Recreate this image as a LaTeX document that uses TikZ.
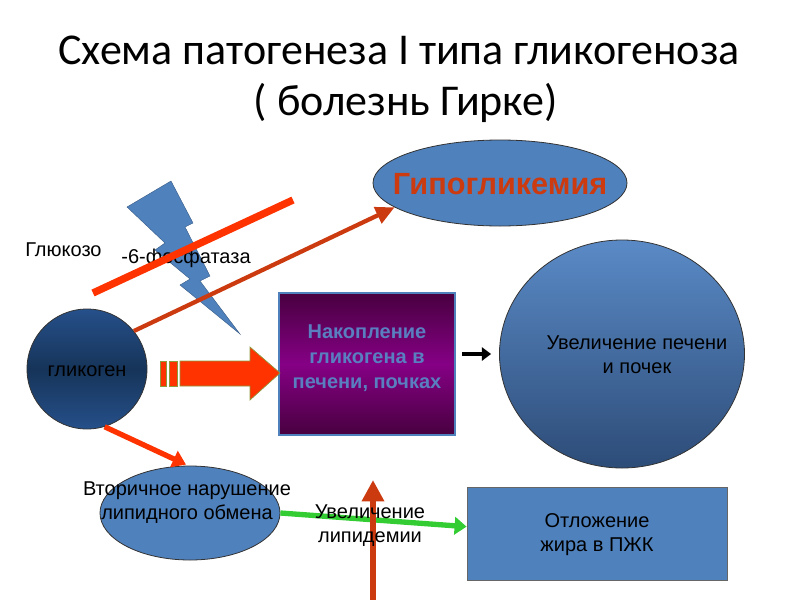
\documentclass[tikz,border=0pt]{standalone}
\usepackage{fontspec}
\setmainfont{Liberation Sans}
\newfontfamily\titlefont{Carlito}
\usetikzlibrary{shapes.geometric,arrows.meta,calc}
\definecolor{steel}{HTML}{4F81BD}
\definecolor{redor}{HTML}{FF3300}
\definecolor{darkor}{HTML}{CC3A10}
\definecolor{greenar}{HTML}{33CC33}
\definecolor{navyL}{HTML}{26508A}
\definecolor{navyD}{HTML}{163459}
\definecolor{purpD}{HTML}{48003F}
\definecolor{purpM}{HTML}{850085}
\definecolor{liverT}{HTML}{5A8AC6}
\definecolor{liverB}{HTML}{2D4C78}
\definecolor{olive}{HTML}{8C9A3C}
\definecolor{boxtext}{HTML}{5A7FC0}
\tikzset{
  txt/.style={font=\fontsize{15}{18}\selectfont, align=center, inner sep=0pt},
  blueell/.style={ellipse, draw=black!80, line width=0.6pt, fill=steel, inner sep=0pt},
}
\begin{document}
\begin{tikzpicture}[x=0.75pt,y=-0.75pt]
\useasboundingbox (0,0) rectangle (800,600);
% title
\node[font=\titlefont\fontsize{33}{40}\selectfont] (t1) at (399,50) {Схема патогенеза I типа гликогеноза};
\node[font=\titlefont\fontsize{33}{40}\selectfont] (t2) at (406,103) {( болезнь Гирке)};

% hypoglycemia
\node[blueell, minimum width=190.5pt, minimum height=64.5pt] (hypo) at (500,183) {};
\node[font=\bfseries\fontsize{23}{26}\selectfont, text=darkor, inner sep=0pt] (hypoT) at (500,184) {Гипогликемия};

% lightning bolt
\fill[steel, draw=steel!70!black, line width=0.3pt] (127,207) -- (171,181) -- (193,223) -- (185,227) -- (210,276) -- (200,281) -- (240,334) -- (180,285) -- (190,279) -- (155,250) -- (165,243) -- cycle;

% labels
\node[txt, anchor=west] (gluc) at (25,250) {Глюкозо};
\node[txt] (phos) at (186,258) {-6-фосфатаза};

% glycogen
\node[circle, draw=black!80, line width=0.6pt, minimum size=90pt, inner sep=0pt, top color=navyL, bottom color=navyL, middle color=navyD] (glyc) at (87,369) {};
\node[txt] (glycT) at (87,371) {гликоген};

% strike line
\coordinate (s1) at (93,293);
\coordinate (s2) at (293,200);
\draw[redor, line width=5.5pt] (s1) -- (s2);

% arrow to hypoglycemia
\draw[darkor, line width=3.2pt, -{Triangle[length=14pt,width=13pt]}] (glyc.39) -- (hypo.193);

% accumulation box
\node[rectangle, draw=steel, line width=2.2pt, minimum width=132pt, minimum height=106.5pt, top color=purpD, bottom color=purpD, middle color=purpM, inner sep=0pt] (acc) at (367,364) {};
\node[font=\bfseries\fontsize{15}{18.5}\selectfont, text=boxtext, align=center] (accT) at (367,358) {Накопление\\ гликогена в\\ печени, почках};

% big block arrow
\fill[redor, draw=olive, line width=0.5pt] (160,361) rectangle (166,386);
\fill[redor, draw=olive, line width=0.5pt] (169,361) rectangle (177,386);
\fill[redor, draw=olive, line width=0.5pt] (180,361) -- (250,361) -- (250,347) -- (280,373) -- (250,400) -- (250,386) -- (180,386) -- cycle;

% liver ellipse
\node[ellipse, draw=black!80, line width=0.6pt, minimum width=183.75pt, minimum height=171pt, inner sep=0pt, top color=liverT, bottom color=liverB] (liver) at (622,354) {};
\node[txt] (liverTx) at (637,355) {Увеличение печени\\ и почек};

% black arrow
\draw[black, line width=3.5pt, -{Triangle[length=7pt,width=10pt]}, shorten <=4.5pt, shorten >=6pt] (acc.east |- liver.west) -- (liver.west);

% lipid ellipse
\node[blueell, minimum width=135pt, minimum height=70.5pt] (lipid) at (190,513) {};
\node[txt] (lipidT) at (187,503) {Вторичное нарушение\\ липидного обмена};

% glycogen -> lipid
\draw[redor, line width=4pt, -{Triangle[length=10pt,width=13pt]}] (glyc.-73) -- ($(lipid.north)+(-4,-1)$);

% fat box
\node[rectangle, draw=black!60, line width=0.6pt, fill=steel, minimum width=195pt, minimum height=69.75pt, inner sep=0pt] (fat) at (597,533.5) {};
\node[txt] (fatT) at (597,535) {Отложение\\ жира в ПЖК};

% green arrow
\draw[greenar, line width=4pt, -{Triangle[length=9pt,width=13pt]}] (lipid.east) -- (fat.177);

% vertical arrow
\coordinate (v1) at (373,600);
\coordinate (v2) at (373,480);
\draw[darkor, line width=4pt, -{Triangle[length=16pt,width=16pt]}] (v1) -- (v2);

% lipidemia text
\node[txt] (lipem) at (370,526) {Увеличение\\ липидемии};
\end{tikzpicture}
\end{document}
